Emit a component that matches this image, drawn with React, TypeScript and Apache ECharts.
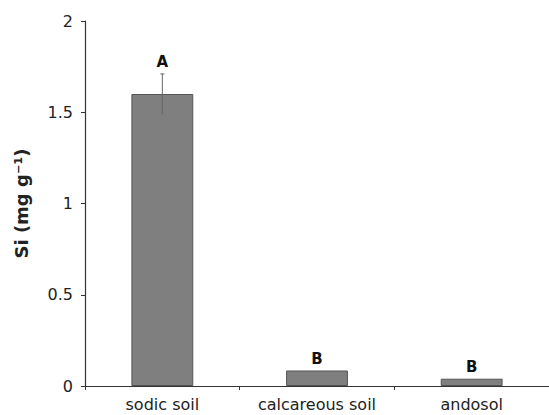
import React, { useEffect, useRef } from "react";
import * as echarts from "echarts";

const categories = ["sodic soil", "calcareous soil", "andosol"];
const siValues = [1.6, 0.085, 0.04];
const siErrors = [0.11, 0, 0];
const groupLetters = ["A", "B", "B"];
const yTicks = [0, 0.5, 1, 1.5, 2];

export default function App() {
  const ref = useRef<HTMLDivElement>(null);
  useEffect(() => {
    if (!ref.current) return;
    const chart = echarts.init(ref.current, null, { renderer: "svg" });
    const font = "'DejaVu Sans', 'Liberation Sans', Arial, sans-serif";
    chart.setOption({
      animation: false,
      backgroundColor: "#ffffff",
      grid: { left: 85, right: -4, top: 21, bottom: 29 },
      xAxis: {
        type: "category",
        data: categories,
        axisLine: { lineStyle: { color: "#333", width: 1.2 } },
        axisTick: { show: true, length: 4, inside: false, lineStyle: { color: "#333" } },
        axisLabel: { color: "#222", fontSize: 16, fontFamily: font, margin: 10 },
      },
      yAxis: {
        type: "value",
        min: 0,
        max: 2,
        interval: 0.5,
        name: "Si (mg g⁻¹)",
        nameLocation: "middle",
        nameGap: 55,
        nameTextStyle: { color: "#222", fontSize: 18, fontWeight: "bold", fontFamily: font },
        axisLine: { show: true, lineStyle: { color: "#333", width: 1.2 } },
        axisTick: { show: true, length: 4, lineStyle: { color: "#333" } },
        splitLine: { show: false },
        axisLabel: {
          color: "#222",
          fontSize: 16,
          fontFamily: font,
          margin: 12,
          formatter: (v: number) => (yTicks.includes(v) ? String(v) : ""),
        },
      },
      series: [
        {
          type: "bar",
          data: siValues,
          barWidth: "40%",
          itemStyle: { color: "#7f7f7f", borderColor: "#555", borderWidth: 1 },
        },
        {
          type: "custom",
          data: siValues.map((v, i) => [i, v, siErrors[i]]),
          renderItem: (params: any, api: any) => {
            const i = api.value(0);
            const v = api.value(1);
            const e = api.value(2);
            const top = api.coord([i, v + e]);
            const bot = api.coord([i, v - e]);
            const children: any[] = [];
            if (e > 0) {
              children.push({
                type: "line",
                shape: { x1: top[0], y1: top[1], x2: bot[0], y2: bot[1] },
                style: { stroke: "#666", lineWidth: 1 },
              });
              children.push({
                type: "line",
                shape: { x1: top[0] - 2, y1: top[1], x2: top[0] + 2, y2: top[1] },
                style: { stroke: "#666", lineWidth: 1 },
              });
            }
            children.push({
              type: "text",
              style: {
                x: top[0],
                y: top[1] - 4,
                text: groupLetters[params.dataIndex],
                textAlign: "center",
                textVerticalAlign: "bottom",
                fill: "#111",
                font: `bold 15px ${font}`,
              },
            });
            return { type: "group", children };
          },
          z: 10,
        },
      ],
    });
    return () => chart.dispose();
  }, []);
  return (
    <div
      ref={ref}
      style={{ position: "absolute", left: 0, top: 0, width: 549, height: 415 }}
    />
  );
}
